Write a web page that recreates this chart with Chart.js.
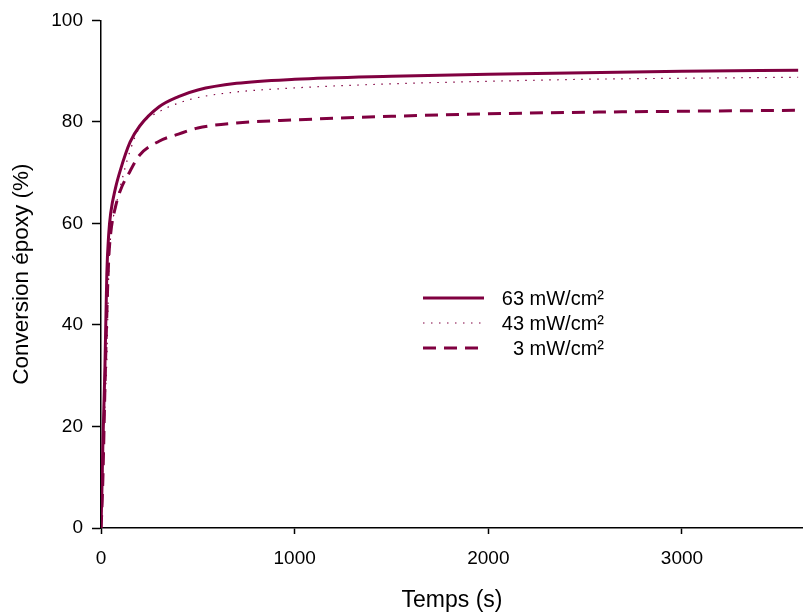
<!DOCTYPE html>
<html><head><meta charset="utf-8">
<script src="https://cdn.jsdelivr.net/npm/chart.js@4/dist/chart.umd.min.js"></script>
<style>html,body{margin:0;padding:0;background:#fff}#c{display:block}</style>
</head><body>
<canvas id="c" width="803" height="615"></canvas>
<script>
const timeS = [0, 5, 10, 20, 30, 40, 50, 75, 100, 150, 200, 300, 400, 500, 700, 1000, 1500, 2000, 2500, 3000, 3600];
const conv63 = [0, 8, 17, 31, 50, 58, 62, 67, 70.5, 76, 79.2, 83, 85, 86.3, 87.6, 88.4, 89, 89.4, 89.7, 90, 90.2];
const conv43 = [0, 6, 13, 24, 33, 50, 57.5, 63, 67.3, 74.3, 79, 82, 83.7, 84.8, 85.9, 86.7, 87.5, 88, 88.4, 88.6, 88.8];
const conv3  = [0, 4, 10, 27, 42, 53, 58, 63.3, 66.5, 70.3, 73.5, 76.2, 77.6, 78.8, 79.8, 80.4, 81.1, 81.6, 81.9, 82.1, 82.3];
const seriesLabels = ['63 mW/cm²', '43 mW/cm²', '3 mW/cm²'];
const xTicks = [0, 1000, 2000, 3000];
const yTicks = [0, 20, 40, 60, 80, 100];

const COLOR = '#800040';
const FONT = '"Liberation Sans", Arial, sans-serif';
const pts = arr => timeS.map((t, i) => ({x: t, y: arr[i]}));

const legendPlugin = {
  id: 'inlegend',
  afterDatasetsDraw(chart) {
    const ctx = chart.ctx;
    const rows = [298, 323, 348];
    chart.data.datasets.forEach((ds, i) => {
      const y = rows[i];
      ctx.save();
      ctx.strokeStyle = ds.borderColor;
      ctx.lineWidth = ds.borderWidth;
      ctx.setLineDash(ds.borderDash || []);
      ctx.beginPath();
      ctx.moveTo(423, y);
      ctx.lineTo(484, y);
      ctx.stroke();
      ctx.setLineDash([]);
      ctx.fillStyle = '#000';
      ctx.font = '20px ' + FONT;
      ctx.textAlign = 'right';
      ctx.textBaseline = 'middle';
      ctx.fillText(ds.label, 604, y + 1);
      ctx.restore();
    });
  }
};

new Chart(document.getElementById('c'), {
  type: 'line',
  data: {
    datasets: [
      {label: seriesLabels[0], data: pts(conv63), borderColor: COLOR, borderWidth: 3, pointRadius: 0, cubicInterpolationMode: 'monotone', fill: false},
      {label: seriesLabels[1], data: pts(conv43), borderColor: COLOR, borderWidth: 1.2, borderDash: [1.5, 6.5], pointRadius: 0, cubicInterpolationMode: 'monotone', fill: false},
      {label: seriesLabels[2], data: pts(conv3), borderColor: COLOR, borderWidth: 3, borderDash: [13, 8], pointRadius: 0, cubicInterpolationMode: 'monotone', fill: false}
    ]
  },
  options: {
    responsive: false,
    animation: false,
    layout: {padding: {top: 19, right: 0, left: 0, bottom: 0}},
    plugins: {legend: {display: false}, tooltip: {enabled: false}},
    scales: {
      x: {
        type: 'linear', min: 0, max: 3625,
        afterBuildTicks: s => { s.ticks = xTicks.map(v => ({value: v})); },
        afterFit: s => { s.height = 87; },
        grid: {display: true, drawOnChartArea: false, drawTicks: true, tickLength: 6, tickColor: '#000', tickWidth: 1.5},
        border: {display: true, color: '#000', width: 1.5},
        ticks: {color: '#000', font: {family: FONT, size: 19}, padding: 13, maxRotation: 0, callback: v => String(v)},
        title: {display: true, text: 'Temps (s)', color: '#000', font: {family: FONT, size: 23}, padding: {top: 0, bottom: 1}}
      },
      y: {
        min: 0, max: 100,
        afterBuildTicks: s => { s.ticks = yTicks.map(v => ({value: v})); },
        afterFit: s => { s.width = 101; },
        grid: {display: true, drawOnChartArea: false, drawTicks: true, tickLength: 9, tickColor: '#000', tickWidth: 1.5},
        border: {display: true, color: '#000', width: 1.5},
        ticks: {color: '#000', font: {family: FONT, size: 19}, padding: 9, callback: v => String(v)},
        title: {display: true, text: 'Conversion époxy (%)', color: '#000', font: {family: FONT, size: 22.5}, padding: {top: 8, bottom: 0}}
      }
    }
  },
  plugins: [legendPlugin]
});
</script>
</body></html>
